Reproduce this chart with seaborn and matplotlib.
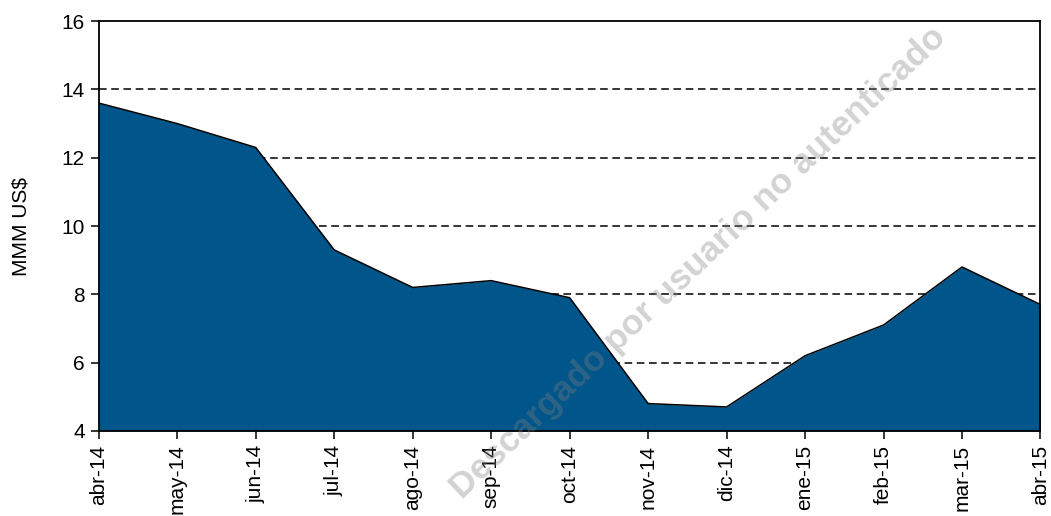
import matplotlib

matplotlib.use("Agg")
import matplotlib.pyplot as plt
import pandas as pd
import seaborn as sns

MONTHS = [
    "abr-14", "may-14", "jun-14", "jul-14", "ago-14", "sep-14", "oct-14",
    "nov-14", "dic-14", "ene-15", "feb-15", "mar-15", "abr-15",
]
VALUES = [13.6, 13.0, 12.3, 9.3, 8.2, 8.4, 7.9, 4.8, 4.7, 6.2, 7.1, 8.8, 7.7]
Y_TICKS = [4, 6, 8, 10, 12, 14, 16]
Y_LABEL = "MMM US$"
WATERMARK = "Descargado por usuario no autenticado"

FILL_COLOR = "#00558A"

df = pd.DataFrame({"mes": MONTHS, "valor": VALUES})
df["pos"] = range(len(df))

sns.set_theme(style="ticks")
plt.rcParams["font.family"] = ["Liberation Sans", "DejaVu Sans"]

fig, ax = plt.subplots(figsize=(10.51, 5.16), dpi=100)
fig.subplots_adjust(left=0.094, right=0.99, top=0.959, bottom=0.165)

for y in Y_TICKS[1:-1]:
    ax.axhline(y, color="black", linestyle=(0, (5, 3)), linewidth=1.1, zorder=1)

ax.fill_between(df["pos"], df["valor"], Y_TICKS[0], color=FILL_COLOR, zorder=2, linewidth=0)
sns.lineplot(data=df, x="pos", y="valor", color="black", linewidth=1.1, ax=ax, zorder=3)

ax.set_xlim(0, len(MONTHS) - 1)
ax.set_ylim(Y_TICKS[0], Y_TICKS[-1])
ax.set_xticks(df["pos"])
ax.set_xticklabels(MONTHS, rotation=90, fontsize=15, color="black")
ax.set_yticks(Y_TICKS)
ax.set_yticklabels([str(t) for t in Y_TICKS], fontsize=15, color="black")
ax.set_xlabel("")
ax.set_ylabel(Y_LABEL, fontsize=15, color="black", labelpad=22)
ax.tick_params(axis="both", direction="out", length=6, width=1.1, color="black", pad=4)

for side in ["left", "bottom", "top", "right"]:
    ax.spines[side].set_visible(True)
    ax.spines[side].set_color("black")
    ax.spines[side].set_linewidth(1.3)
    ax.spines[side].set_zorder(4)

fig.text(0.664, 0.49, WATERMARK, fontsize=25.5, fontweight="bold", color="#808080",
         alpha=0.35, rotation=43.5, ha="center", va="center", zorder=10)

fig.savefig("out.png", dpi=100)
